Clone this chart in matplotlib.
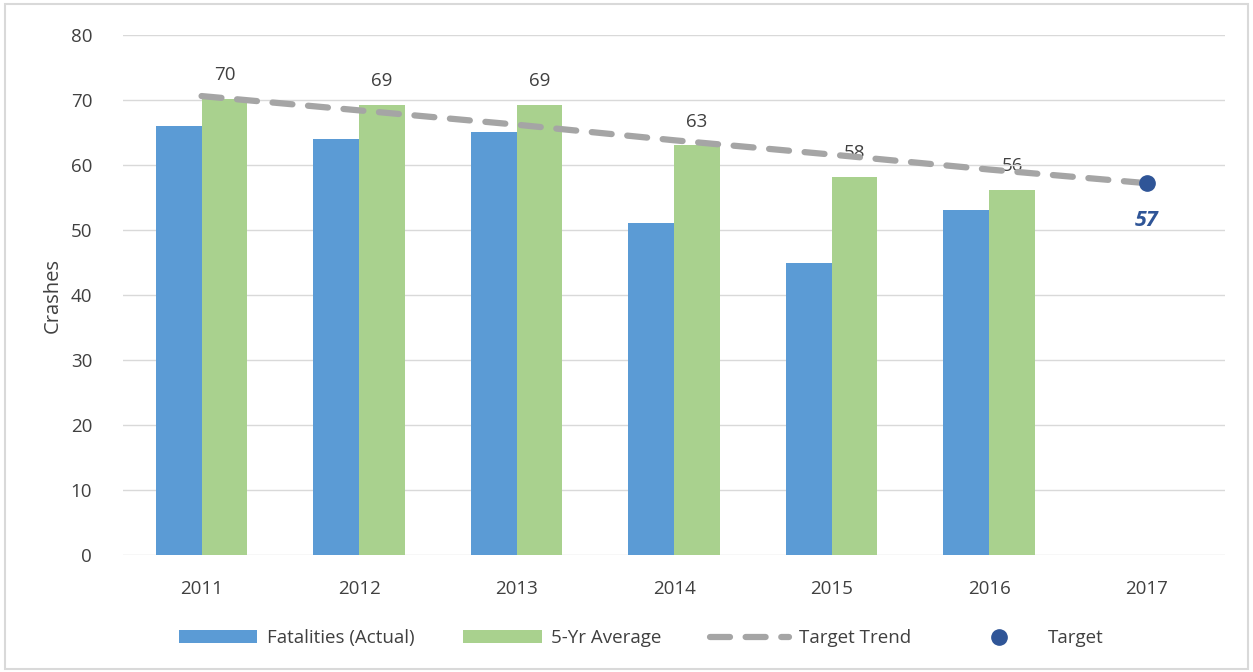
import numpy as np
import matplotlib.pyplot as plt
from matplotlib.patches import Rectangle

# data
years = ['2011', '2012', '2013', '2014', '2015', '2016', '2017']
fatalities = [66, 64, 65, 51, 45, 53]
five_yr_avg = [70.2, 69.2, 69.2, 63.0, 58.2, 56.2]
avg_labels = ['70', '69', '69', '63', '58', '56']
target_trend = [70.6, 68.4, 66.2, 63.8, 61.6, 59.3, 57.2]
target = 57.2
target_label = '57'

blue = '#5B9BD5'
green = '#A9D18E'
gray = '#A5A5A5'
navy = '#2F5597'
text_c = '#404040'

plt.rcParams['font.family'] = ['Open Sans', 'DejaVu Sans']

fig = plt.figure(figsize=(12.53, 6.72), dpi=100)
ax = fig.add_axes([0.098, 0.174, 0.88, 0.774])

x = np.arange(len(years))
n = len(fatalities)
w = 0.29
b1 = ax.bar(x[:n] - w / 2, fatalities, w, color=blue, label='Fatalities (Actual)', zorder=2)
b2 = ax.bar(x[:n] + w / 2, five_yr_avg, w, color=green, label='5-Yr Average', zorder=2)

for xi, v, lab in zip(x[:n], five_yr_avg, avg_labels):
    ax.text(xi + w / 2, v + 2.3, lab, ha='center', va='bottom', fontsize=13.5, color=text_c, zorder=1)

l1, = ax.plot(x, target_trend, color=gray, lw=4.5, dashes=(3.2, 2.5), dash_capstyle='round',
              label='Target Trend', zorder=3)
l2, = ax.plot([x[-1]], [target], 'o', color=navy, ms=11, label='Target', zorder=4)
ax.text(x[-1], target - 4.2, target_label, ha='center', va='top', fontsize=15.5,
        fontweight='bold', style='italic', color=navy)

ax.set_xlim(-0.5, len(years) - 0.5)
ax.set_ylim(0, 80)
ax.set_yticks(range(0, 81, 10))
ax.set_xticks(x)
ax.set_xticklabels(years)
ax.tick_params(length=0, labelsize=13.5, colors=text_c, pad=18)
ax.tick_params(axis='y', pad=22)
ax.grid(axis='y', color='#D9D9D9', lw=1, zorder=0)
for s in ax.spines.values():
    s.set_visible(False)
ax.set_ylabel('Crashes', fontsize=14.5, color=text_c, labelpad=6)

ax.legend([b1, b2, l1, l2], ['Fatalities (Actual)', '5-Yr Average', 'Target Trend', 'Target'],
          loc='upper center', bbox_to_anchor=(0.47, -0.11), ncol=4, frameon=False,
          fontsize=13.5, labelcolor=text_c, handlelength=4.2, columnspacing=2.6,
          handletextpad=0.5)

fig.patches.append(Rectangle((0.004, 0.004), 0.992, 0.99, transform=fig.transFigure,
                             fill=False, edgecolor='#D9D9D9', lw=1.5))

fig.savefig('out.png', dpi=100)
